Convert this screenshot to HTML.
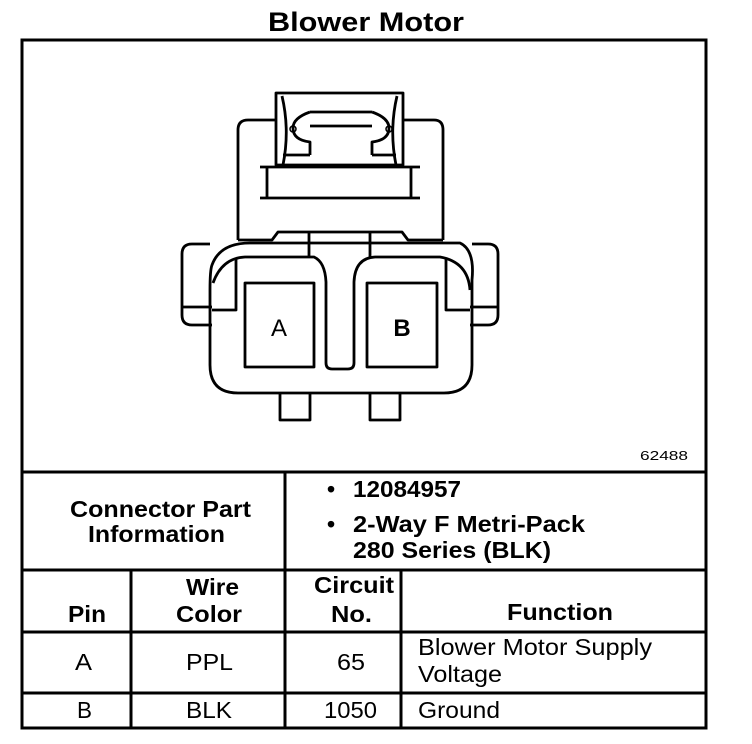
<!DOCTYPE html>
<html><head><meta charset="utf-8"><style>
body{margin:0;background:#fff;}
svg{display:block;}
text{font-family:"Liberation Sans",Arial,sans-serif;fill:#000;}
</style></head><body>
<svg width="752" height="744" viewBox="0 0 752 744" xmlns="http://www.w3.org/2000/svg">
<text x="268" y="31" font-size="27" font-weight="bold" textLength="196" lengthAdjust="spacingAndGlyphs">Blower Motor</text>
<g fill="none" stroke="#000" stroke-width="3">
<rect x="22" y="40" width="684" height="688"/>
<line x1="22" y1="472" x2="706" y2="472"/>
<line x1="22" y1="570" x2="706" y2="570"/>
<line x1="22" y1="632" x2="706" y2="632"/>
<line x1="22" y1="693" x2="706" y2="693"/>
<line x1="285" y1="472" x2="285" y2="728"/>
<line x1="131" y1="570" x2="131" y2="728"/>
<line x1="401" y1="570" x2="401" y2="728"/>
</g>
<!-- connector -->
<g fill="none" stroke="#000" stroke-width="2.8" stroke-linejoin="round">
<path d="M276 120 H248 Q238 120 238 130 V240"/>
<path d="M403 120 H434 Q443 120 443 130 V240"/>
<rect x="276" y="93" width="127" height="72" fill="#fff"/>
<path d="M282 96 Q290 130 283 165"/>
<path d="M397 96 Q389 130 396 165"/>
<path d="M310 112 H372"/>
<path d="M310 126 H372"/>
<path d="M310 112 Q293 118 293 128 Q293 140 310 142 V155"/>
<path d="M372 112 Q389 118 389 128 Q389 140 372 142 V155"/>
<circle cx="293" cy="129" r="3" stroke-width="1.5"/>
<circle cx="389" cy="129" r="3" stroke-width="1.5"/>
<path d="M283 155 H310 M372 155 H396"/>
<path d="M260 167 H420 M260 198 H420 M267 167 V198 M411 167 V198"/>
<path d="M210 244 H192 Q182 244 182 254 V315 Q182 325 192 325 H212"/>
<path d="M472 244 H488 Q498 244 498 254 V315 Q498 325 488 325 H470"/>
<path d="M182 307 H212 M470 307 H498"/>
<path d="M238 240 H272 L278 232 H402 L408 240 H443"/>
<path d="M212 265 Q220 243 250 243 H460 Q475 250 472 280 V365 Q472 393 444 393 H238 Q210 393 210 365 V290 Q210 270 212 265 Z"/>
<path d="M213 283 Q222 258 245 257 H314 Q325 262 326 282 V363 Q326 369 332 369 H348 Q354 369 354 363 V282 Q355 258 375 257 H440 Q468 262 470 290"/>
<path d="M309 232 V257 M370 232 V257"/>
<path d="M236 258 V310 H212 M446 258 V310 H470"/>
<rect x="245" y="283" width="69" height="84"/>
<rect x="367" y="283" width="70" height="84"/>
<path d="M280 393 V420 H310 V393 M370 393 V420 H400 V393"/>
</g>
<text x="279" y="336" font-size="24" text-anchor="middle">A</text>
<text x="402" y="336" font-size="24" text-anchor="middle" font-weight="bold">B</text>
<text x="640" y="460" font-size="13" textLength="48" lengthAdjust="spacingAndGlyphs">62488</text>
<g font-weight="bold" font-size="23">
<text x="70" y="517" textLength="181" lengthAdjust="spacingAndGlyphs">Connector Part</text>
<text x="88" y="542" textLength="137" lengthAdjust="spacingAndGlyphs">Information</text>
<text x="327" y="497">•</text><text x="353" y="497" textLength="108" lengthAdjust="spacingAndGlyphs">12084957</text>
<text x="327" y="532">•</text><text x="353" y="532" textLength="232" lengthAdjust="spacingAndGlyphs">2-Way F Metri-Pack</text>
<text x="353" y="558" textLength="198" lengthAdjust="spacingAndGlyphs">280 Series (BLK)</text>
<text x="68" y="622" textLength="38" lengthAdjust="spacingAndGlyphs">Pin</text>
<text x="186" y="595" textLength="53" lengthAdjust="spacingAndGlyphs">Wire</text>
<text x="176" y="622" textLength="66" lengthAdjust="spacingAndGlyphs">Color</text>
<text x="314" y="593" textLength="80" lengthAdjust="spacingAndGlyphs">Circuit</text>
<text x="331" y="622" textLength="41" lengthAdjust="spacingAndGlyphs">No.</text>
<text x="507" y="620" textLength="106" lengthAdjust="spacingAndGlyphs">Function</text>
</g>
<g font-size="23">
<text x="75" y="670" textLength="17" lengthAdjust="spacingAndGlyphs">A</text>
<text x="186" y="670" textLength="47" lengthAdjust="spacingAndGlyphs">PPL</text>
<text x="337" y="670" textLength="28" lengthAdjust="spacingAndGlyphs">65</text>
<text x="418" y="655" textLength="234" lengthAdjust="spacingAndGlyphs">Blower Motor Supply</text>
<text x="418" y="682" textLength="84" lengthAdjust="spacingAndGlyphs">Voltage</text>
<text x="77" y="718" textLength="15" lengthAdjust="spacingAndGlyphs">B</text>
<text x="186" y="718" textLength="46" lengthAdjust="spacingAndGlyphs">BLK</text>
<text x="324" y="718" textLength="53" lengthAdjust="spacingAndGlyphs">1050</text>
<text x="418" y="718" textLength="82" lengthAdjust="spacingAndGlyphs">Ground</text>
</g>
</svg>
</body></html>
